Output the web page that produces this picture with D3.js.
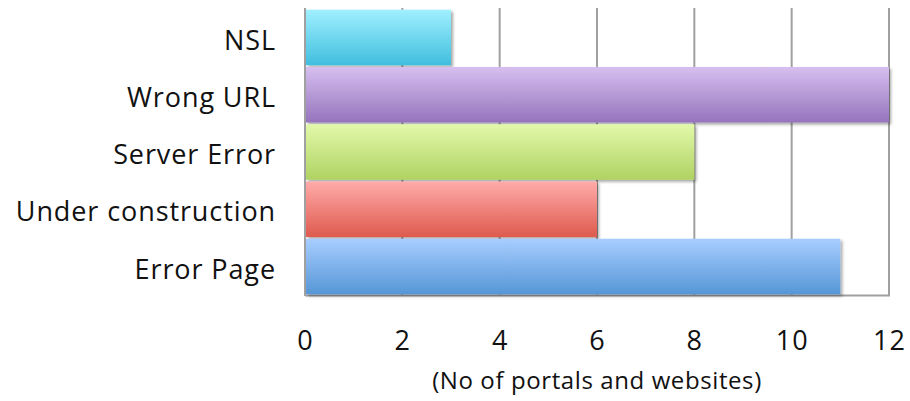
<!DOCTYPE html>
<html>
<head>
<meta charset="utf-8">
<script src="https://cdn.jsdelivr.net/npm/d3@7"></script>
<style>
  html, body { margin: 0; padding: 0; background: #fff; }
  svg { display: block; font-family: "Open Sans", Lato, sans-serif; }
</style>
</head>
<body>
<svg id="chart" width="910" height="401"></svg>
<script>
// ---- data ----
const categories = ["NSL", "Wrong URL", "Server Error", "Under construction", "Error Page"];
const values = [3, 12, 8, 6, 11];
const xTicks = [0, 2, 4, 6, 8, 10, 12];
const xTitle = "(No of portals and websites)";
const gradTop = ["#A0F0FF", "#D6BFF0", "#E2F9AA", "#FFABA9", "#A8CEFF"];
const gradBottom = ["#40BEDE", "#9574BC", "#AFD262", "#DE5A4E", "#5596D6"];

// ---- layout ----
const svg = d3.select("#chart");
const pLeft = 305, pRight = 889, pTop = 8, pBottom = 296;
const FONT = "'Open Sans', Lato, sans-serif";

const x = d3.scaleLinear().domain([0, 12]).range([pLeft, pRight]);
const y = d3.scaleBand().domain(categories).range([pTop, pBottom])
  .paddingInner(0.03).paddingOuter(0.03);

const defs = svg.append("defs");
categories.forEach((c, i) => {
  const g = defs.append("linearGradient").attr("id", "g" + i)
    .attr("x1", 0).attr("y1", 0).attr("x2", 0).attr("y2", 1);
  g.append("stop").attr("offset", "0%").attr("stop-color", gradTop[i]);
  g.append("stop").attr("offset", "100%").attr("stop-color", gradBottom[i]);
});
const f = defs.append("filter").attr("id", "shadow")
  .attr("x", "-5%").attr("y", "-10%").attr("width", "115%").attr("height", "130%");
f.append("feDropShadow").attr("dx", 2).attr("dy", 2).attr("stdDeviation", 1.5)
  .attr("flood-color", "#000").attr("flood-opacity", 0.35);

// gridlines (vertical) including right frame
const grid = svg.append("g");
grid.selectAll("line").data(xTicks.filter(d => d > 0)).join("line")
  .attr("x1", d => x(d)).attr("x2", d => x(d))
  .attr("y1", pTop).attr("y2", pBottom)
  .attr("stroke", "#a0a0a0").attr("stroke-width", 2);

// bottom frame line
svg.append("line").attr("x1", pLeft).attr("x2", pRight + 1)
  .attr("y1", pBottom - 0.5).attr("y2", pBottom - 0.5)
  .attr("stroke", "#a0a0a0").attr("stroke-width", 2);

// bars
svg.append("g").selectAll("rect").data(categories).join("rect")
  .attr("x", x(0) + 1)
  .attr("y", d => y(d))
  .attr("width", (d, i) => x(values[i]) - x(0) - 1)
  .attr("height", y.bandwidth())
  .attr("fill", (d, i) => `url(#g${i})`)
  .attr("filter", "url(#shadow)");

// left axis line
svg.append("line").attr("x1", pLeft).attr("x2", pLeft)
  .attr("y1", pTop).attr("y2", pBottom)
  .attr("stroke", "#a0a0a0").attr("stroke-width", 2);

// y labels
const yAxis = d3.axisLeft(y).tickSize(0).tickPadding(29);
const ya = svg.append("g").attr("transform", `translate(${pLeft},0)`).call(yAxis);
ya.select(".domain").remove();
ya.selectAll("text").attr("font-size", 27).attr("fill", "#111")
  .attr("font-family", FONT).attr("letter-spacing", "0.9px")
  .attr("dy", "0.45em");

// x tick labels
const xAxis = d3.axisBottom(x).tickValues(xTicks).tickSize(0).tickPadding(0);
const xa = svg.append("g").attr("transform", `translate(0,350)`).call(xAxis);
xa.select(".domain").remove();
xa.selectAll("text").attr("font-size", 27).attr("fill", "#111")
  .attr("font-family", FONT).attr("letter-spacing", "1px")
  .attr("dy", 0);

// x title
svg.append("text").attr("x", (pLeft + pRight) / 2).attr("y", 389)
  .attr("text-anchor", "middle").attr("font-size", 24).attr("fill", "#111")
  .attr("font-family", FONT).attr("letter-spacing", "0.6px")
  .text(xTitle);
</script>
</body>
</html>
